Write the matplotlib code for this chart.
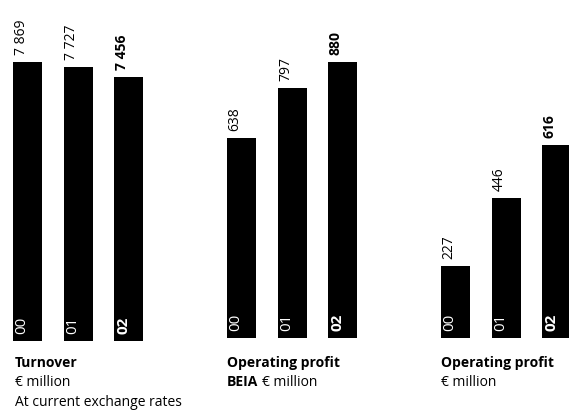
import matplotlib
matplotlib.use("Agg")
import matplotlib.pyplot as plt

plt.rcParams['font.family'] = ['Open Sans', 'DejaVu Sans']

years = ['00', '01', '02']
turnover = [7869, 7727, 7456]
profit_beia = [638, 797, 880]
profit = [227, 446, 616]

W, H = 569, 419
fig = plt.figure(figsize=(W / 100, H / 100), dpi=100)

bar_w = 0.584   # bar width as share of the bar pitch
pitch_px = 50.5


def panel(left_px, bottom_px, values, ytop):
    # axes spanning from the top of the figure down to the bar baseline
    ax = fig.add_axes([left_px / W, 1 - bottom_px / H,
                       3 * pitch_px / W, bottom_px / H])
    ax.set_xlim(-bar_w / 2, 3 - bar_w / 2)
    ax.set_ylim(0, ytop)
    ax.axis('off')
    xs = range(len(values))
    ax.bar(xs, values, width=bar_w, color='black', clip_on=False)
    for i, v in enumerate(values):
        weight = 'bold' if i == len(values) - 1 else 'normal'
        label = f'{v:,}'.replace(',', ' ')
        ax.annotate(label, xy=(i - bar_w / 2, v), xytext=(8, 7),
                    textcoords='offset pixels', rotation=90,
                    ha='center', va='bottom', fontsize=10,
                    fontweight=weight, color='black', annotation_clip=False)
        ax.annotate(years[i], xy=(i - bar_w / 2, 0), xytext=(9, 7),
                    textcoords='offset pixels', rotation=90,
                    ha='center', va='bottom', fontsize=11,
                    fontweight=weight, color='white', annotation_clip=False)
    return ax


panel(13, 341, turnover, 341 * 28.2)
panel(227, 337.5, profit_beia, 337.5 * 3.195)
panel(441, 337.5, profit, 337.5 * 3.195)


def fx(x):
    return x / W


def fy(y):
    return 1 - y / H


title_kw = dict(fontsize=10, va='baseline', ha='left', color='black')

fig.text(fx(15), fy(367), 'Turnover', fontweight='bold', **title_kw)
fig.text(fx(15), fy(386), '€ million', **title_kw)
fig.text(fx(15), fy(406), 'At current exchange rates', **title_kw)

fig.text(fx(227), fy(367), 'Operating profit', fontweight='bold', **title_kw)
beia = fig.text(fx(227), fy(386), 'BEIA', fontweight='bold', **title_kw)
# put the regular part right after the bold word, on the same baseline
fig.canvas.draw()
bb = beia.get_window_extent()
fig.text(bb.x1 / W + fx(4), fy(386), '€ million', **title_kw)

fig.text(fx(441), fy(367), 'Operating profit', fontweight='bold', **title_kw)
fig.text(fx(441), fy(386), '€ million', **title_kw)

fig.savefig('out.png', dpi=100)
